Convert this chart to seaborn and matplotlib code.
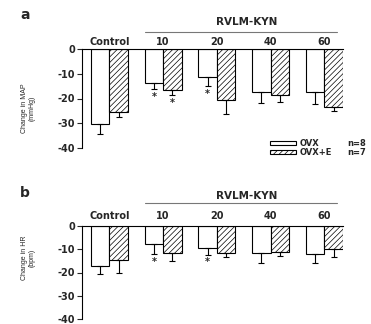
import numpy as np
import pandas as pd
import matplotlib
matplotlib.use("Agg")
import matplotlib.pyplot as plt
import matplotlib.patches as mpatches
import seaborn as sns

# ---------------------------------------------------------------------
# Datos (media y error hacia abajo)
# ---------------------------------------------------------------------
groups = ["Control", "10", "20", "40", "60"]
conditions = ["OVX", "OVX+E"]
n_labels = ["n=8", "n=7"]

map_ovx = [-30.2, -13.6, -11.5, -17.2, -17.3]
map_ovx_err = [4.3, 2.7, 3.4, 4.6, 4.9]
map_ovxe = [-25.3, -16.7, -20.6, -18.4, -23.4]
map_ovxe_err = [2.1, 2.0, 5.6, 3.0, 1.7]
map_sig_ovx = [False, True, True, False, False]
map_sig_ovxe = [False, True, False, False, False]

hr_ovx = [-17.1, -7.8, -9.6, -11.5, -12.1]
hr_ovx_err = [3.4, 4.3, 2.7, 4.4, 3.8]
hr_ovxe = [-14.8, -11.4, -11.5, -11.2, -10.1]
hr_ovxe_err = [5.2, 3.8, 2.0, 1.6, 3.1]
hr_sig_ovx = [False, True, True, False, False]
hr_sig_ovxe = [False, False, False, False, False]

y_ticks = [0, -10, -20, -30, -40]

sns.set_theme(style="white")
plt.rcParams.update({
    "font.family": ["DejaVu Sans"],
    "font.weight": "bold",
    "axes.unicode_minus": False,
    "hatch.linewidth": 0.5,
    "hatch.color": "black",
})

fig = plt.figure(figsize=(3.71, 3.24), dpi=100)
W, H = 371, 324


def px_axes(left, top, right, bottom):
    return fig.add_axes([left / W, 1 - bottom / H, (right - left) / W, (bottom - top) / H])


def panel(ax, ovx, ovx_err, ovxe, ovxe_err, sig_ovx, sig_ovxe, ylabel, label_y, grp_pad):
    df = pd.DataFrame({
        "grupo": groups * 2,
        "cond": [conditions[0]] * len(groups) + [conditions[1]] * len(groups),
        "valor": list(ovx) + list(ovxe),
    })
    sns.barplot(data=df, x="grupo", y="valor", hue="cond", order=groups,
                hue_order=conditions, palette=["white", "white"], edgecolor="black",
                linewidth=0.8, width=0.69, errorbar=None, legend=False, ax=ax)
    for bar in ax.containers[1]:
        bar.set_hatch("//////")

    # barras de error solo hacia abajo
    for cont, vals, errs, sig in [(ax.containers[0], ovx, ovx_err, sig_ovx),
                                  (ax.containers[1], ovxe, ovxe_err, sig_ovxe)]:
        for bar, v, e, s in zip(cont, vals, errs, sig):
            xc = bar.get_x() + bar.get_width() / 2
            ax.errorbar(xc, v, yerr=[[e], [0]], fmt="none", ecolor="black",
                        elinewidth=0.8, capsize=2.5, capthick=0.8)
            if s:
                ax.text(xc, v - e - 1.2, "*", ha="center", va="top", fontsize=7)

    ax.set_ylim(-40, 0)
    ax.set_xlim(-0.51, 4.345)
    ax.set_yticks(y_ticks)
    ax.set_yticklabels([str(t) for t in y_ticks], fontsize=7, fontweight="bold")
    ax.tick_params(axis="y", direction="out", length=3.5, width=0.8, pad=1.5, left=True)
    ax.xaxis.tick_top()
    ax.tick_params(axis="x", length=0, pad=grp_pad, labelsize=7)
    for lab in ax.get_xticklabels():
        lab.set_fontweight("bold")
    ax.set_xlabel("")
    ax.set_ylabel(ylabel, fontsize=5, fontweight="normal", family="Liberation Sans",
                  linespacing=1.1)
    ax.yaxis.set_label_coords(-0.178, label_y)
    for side in ["right", "bottom"]:
        ax.spines[side].set_visible(False)
    for side in ["left", "top"]:
        ax.spines[side].set_linewidth(0.8)
        ax.spines[side].set_color("black")


# (a) MAP
ax_a = px_axes(82, 49, 343, 148)
panel(ax_a, map_ovx, map_ovx_err, map_ovxe, map_ovxe_err, map_sig_ovx, map_sig_ovxe,
      "Change in MAP\n(mmHg)", 0.40, 1.5)
ax_a.plot([0.66, 4.24], [1.17, 1.17], color="#777777", lw=0.8, clip_on=False,
          transform=ax_a.get_xaxis_transform())
ax_a.text(2.55, 1.275, "RVLM-KYN", ha="center", va="center", fontsize=7.5,
          fontweight="bold", transform=ax_a.get_xaxis_transform())

# (b) HR
ax_b = px_axes(82, 226, 343, 319)
panel(ax_b, hr_ovx, hr_ovx_err, hr_ovxe, hr_ovxe_err, hr_sig_ovx, hr_sig_ovxe,
      "Change in HR\n(bpm)", 0.66, 3.5)
ax_b.plot([0.66, 4.24], [1.25, 1.25], color="#777777", lw=0.8, clip_on=False,
          transform=ax_b.get_xaxis_transform())
ax_b.text(2.55, 1.32, "RVLM-KYN", ha="center", va="center", fontsize=7.5,
          fontweight="bold", transform=ax_b.get_xaxis_transform())

# leyenda
handles = [mpatches.Patch(facecolor="white", edgecolor="black", linewidth=0.8),
           mpatches.Patch(facecolor="white", edgecolor="black", linewidth=0.8, hatch="//////")]
leg = fig.legend(handles, conditions, loc="upper left",
                 bbox_to_anchor=(266 / W, 1 - 135 / H),
                 frameon=False, fontsize=6, handlelength=3.1, handleheight=0.45,
                 handletextpad=0.4, labelspacing=0.0, borderpad=0.0)
for i, t in enumerate(n_labels):
    fig.text(347 / W, 1 - (143 + 9.7 * i) / H, t, fontsize=6, fontweight="bold",
             va="center", ha="left")

fig.text(25 / W, 1 - 15 / H, "a", fontsize=10, fontweight="bold", ha="center", va="center")
fig.text(25 / W, 1 - 193 / H, "b", fontsize=10, fontweight="bold", ha="center", va="center")

fig.savefig("out.png", dpi=100)
